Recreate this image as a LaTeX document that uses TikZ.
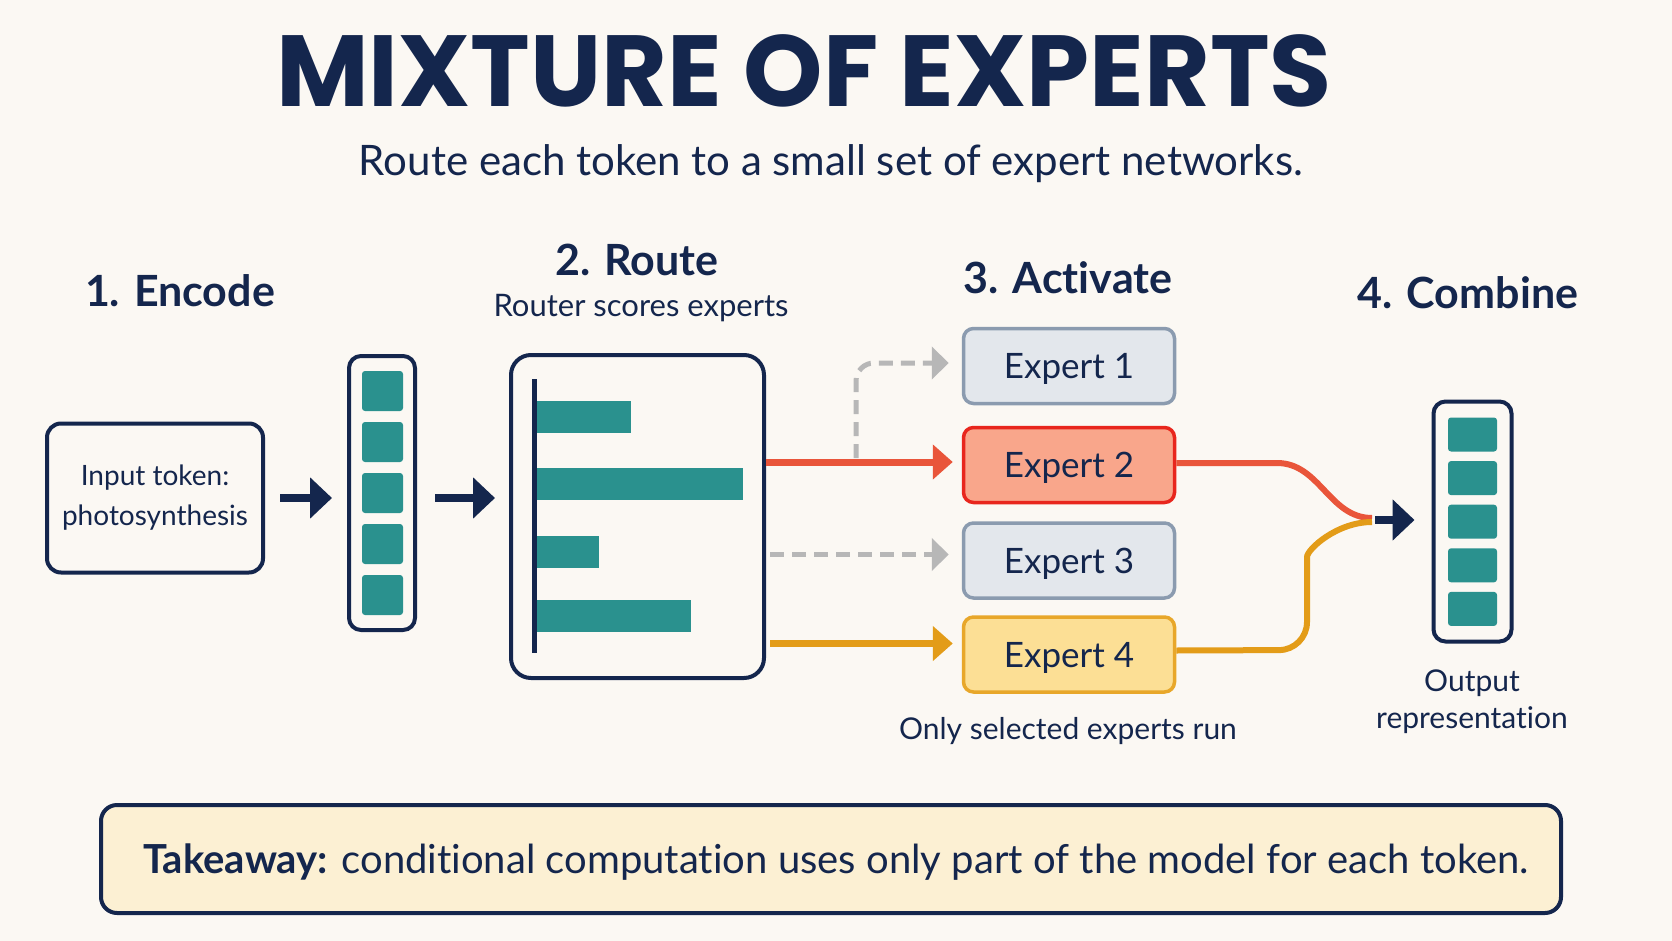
\documentclass[tikz,border=0pt]{standalone}
\usepackage{fontspec}
\setmainfont{Lato}[Ligatures=NoCommon]
\newfontfamily\titlefont{Poppins}
\usepackage{tikz}
\usetikzlibrary{arrows.meta,positioning,calc}
\definecolor{InkNavy}{HTML}{14264D}
\definecolor{PaperCream}{HTML}{FBF8F3}
\definecolor{CellTeal}{HTML}{2A918E}
\definecolor{RouteRed}{HTML}{E9553A}
\definecolor{HotRed}{HTML}{E8261D}
\definecolor{HotFill}{HTML}{F9A68B}
\definecolor{RouteOrange}{HTML}{E39C18}
\definecolor{WarmFill}{HTML}{FCDF95}
\definecolor{WarmEdge}{HTML}{E8A72A}
\definecolor{IdleFill}{HTML}{E3E7EC}
\definecolor{IdleEdge}{HTML}{8B9BAF}
\definecolor{SkipGrey}{HTML}{B7B7B7}
\definecolor{NoteFill}{HTML}{FCF0D3}

\begin{document}
\begin{tikzpicture}[x=1pt, y=-1pt,
    title/.style={anchor=base, text=InkNavy, font=\titlefont\bfseries\fontsize{101}{108}\selectfont},
    subtitle/.style={anchor=base, text=InkNavy, font=\fontsize{42}{48}\selectfont},
    phase/.style={anchor=base, text=InkNavy, font=\bfseries\fontsize{43}{50}\selectfont},
    caption/.style={anchor=base, text=InkNavy, align=center, font=\fontsize{30}{37}\selectfont},
    panel/.style={rectangle, rounded corners=14pt, draw=InkNavy, line width=4pt, fill=PaperCream},
    vecbox/.style={rectangle, rounded corners=12pt, draw=InkNavy, line width=4pt, fill=PaperCream},
    cell/.style={rectangle, rounded corners=3pt, fill=CellTeal, inner sep=0pt},
    bar/.style={rectangle, fill=CellTeal, inner sep=0pt, minimum height=32pt, anchor=west},
    expert/.style={rectangle, rounded corners=10pt, line width=3.5pt, minimum width=211pt, minimum height=75pt, text=InkNavy, text height=25pt, text depth=0pt, font=\fontsize{35}{40}\selectfont},
    idle/.style={expert, draw=IdleEdge, fill=IdleFill},
    navyarrow/.style={-{Triangle[length=22pt,width=40pt]}, line width=8pt, draw=InkNavy},
    redarrow/.style={-{Triangle[length=20pt,width=34pt]}, line width=7pt, draw=RouteRed},
    orangearrow/.style={-{Triangle[length=20pt,width=34pt]}, line width=7pt, draw=RouteOrange},
    skiparrow/.style={-{Triangle[length=17pt,width=32pt]}, line width=5pt, dash pattern=on 14pt off 8pt, draw=SkipGrey},
    mergeline/.style={line width=6pt}
  ]
    \fill[PaperCream] (0,0) rectangle (1672,941);
    \useasboundingbox (0,0) rectangle (1672,941);

    \node[title] (heading) at (804,107) {MIXTURE OF EXPERTS};
    \node[subtitle] (tagline) at (831,176) {Route each token to a small set of expert networks.};

    % stage headings
    \node[phase] (encodehd) at (180,306) {1. Encode};
    \node[phase] (routehd) at (637,276) {2. Route};
    \node[caption, font=\fontsize{31}{37}\selectfont] (routenote) at (641,316) {Router scores experts};
    \node[phase] (activatehd) at (1068,293) {3. Activate};
    \node[phase] (combinehd) at (1468,308) {4. Combine};

    % encode
    \node[panel, minimum width=216pt, minimum height=149pt, align=center, text=InkNavy,
          font=\fontsize{28}{40}\selectfont] (input) at (155,498) {Input token:\\photosynthesis};
    \node[vecbox, minimum width=66pt, minimum height=274pt] (encvec) at (382,493) {};
    \foreach \i in {0,...,4}
      \node[cell, minimum width=41pt, minimum height=40pt] (enc\i) at (382.5,391+51*\i) {};

    % route
    \node[panel, rounded corners=20pt, minimum width=253pt, minimum height=323pt] (router) at (637.5,516.5) {};
    \node[bar, minimum width=95pt] (bar1) at (536,417) {};
    \node[bar, minimum width=207pt] (bar2) at (536,484) {};
    \node[bar, minimum width=63pt] (bar3) at (536,551.5) {};
    \node[bar, minimum width=155pt] (bar4) at (536,615.5) {};
    \draw[InkNavy, line width=5pt] (534,379) -- (534,653);

    % activate
    \node[idle] (e1) at (1069,366) {Expert 1};
    \node[expert, draw=HotRed, fill=HotFill] (e2) at (1069,465) {Expert 2};
    \node[idle] (e3) at (1069,560.5) {Expert 3};
    \node[expert, draw=WarmEdge, fill=WarmFill] (e4) at (1069,654.5) {Expert 4};
    \node[caption] (onlynote) at (1068,739) {Only selected experts run};

    % combine
    \node[vecbox, minimum width=78pt, minimum height=240pt] (outvec) at (1472.5,521.5) {};
    \foreach \i in {0,...,4}
      \node[cell, minimum width=49pt, minimum height=34pt] (out\i) at (1472.5,434.5+43.6*\i) {};
    \node[caption] (outnote) at (1472,728) {Output\\representation};

    % takeaway
    \node[rectangle, rounded corners=16pt, draw=InkNavy, line width=4pt, fill=NoteFill,
          minimum width=1460pt, minimum height=108pt] (takeaway) at (831,859) {};
    \node[anchor=base, text=InkNavy, font=\fontsize{40}{44}\selectfont] (takeawaytxt) at (836,873)
      {\textbf{Takeaway:} conditional computation uses only part of the model for each token.};

    % connectors
    \draw[navyarrow, shorten <=15pt, shorten >=15pt] (input) -- (input -| encvec.west);
    \draw[navyarrow, shorten <=18pt, shorten >=14pt] (encvec.east |- input) -- (router.west |- input);
    \coordinate (fork) at (856,458);
    \draw[redarrow, shorten >=9pt] ([yshift=3pt]router.east |- e2) -- ([yshift=3pt]e2.west);
    \draw[skiparrow, rounded corners=18pt, shorten >=13pt] (fork) |- ([yshift=3pt]e1.west);
    \draw[skiparrow, shorten <=4pt, shorten >=13pt] ([yshift=6pt]router.east |- e3) -- ([yshift=6pt]e3.west);
    \draw[orangearrow, shorten <=4pt, shorten >=9pt] ([yshift=11pt]router.east |- e4) -- ([yshift=11pt]e4.west);

    \coordinate (merge) at (1372,520);
    \draw[mergeline, RouteRed] ([yshift=2pt]e2.east) -- (1277,463) to[out=0,in=180] ([yshift=2pt]merge);
    \draw[mergeline, RouteOrange, rounded corners=28pt] ([yshift=4pt]e4.east) -- (1307,650) -- (1307,585) to[out=90,in=180] ([yshift=-2pt]merge);
    \draw[navyarrow, shorten <=3pt, shorten >=17pt] (merge) -- (merge -| outvec.west);
\end{tikzpicture}
\end{document}
